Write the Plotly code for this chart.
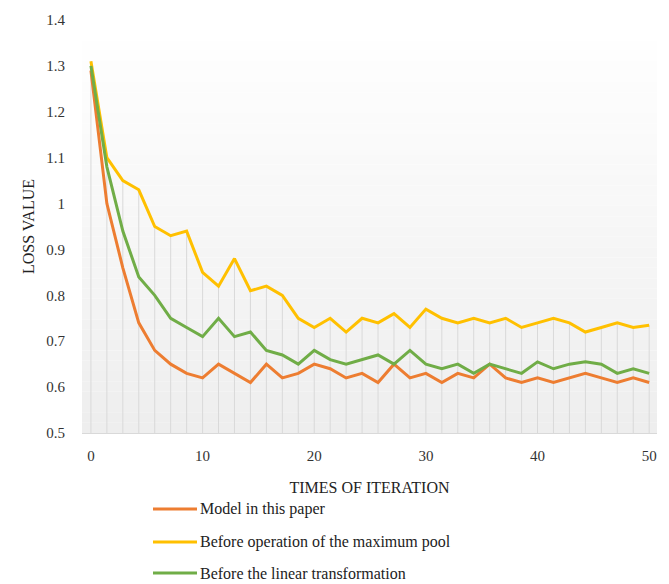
import plotly.graph_objects as go

# ---- data ----
n_points = 36
x_max = 50
iterations = [i * x_max / (n_points - 1) for i in range(n_points)]

model_this_paper = [1.29, 1.00, 0.86, 0.74, 0.68, 0.65, 0.63, 0.62, 0.65, 0.63,
                    0.61, 0.65, 0.62, 0.63, 0.65, 0.64, 0.62, 0.63, 0.61, 0.65,
                    0.62, 0.63, 0.61, 0.63, 0.62, 0.65, 0.62, 0.61, 0.62, 0.61,
                    0.62, 0.63, 0.62, 0.61, 0.62, 0.61]
before_max_pool = [1.31, 1.10, 1.05, 1.03, 0.95, 0.93, 0.94, 0.85, 0.82, 0.88,
                   0.81, 0.82, 0.80, 0.75, 0.73, 0.75, 0.72, 0.75, 0.74, 0.76,
                   0.73, 0.77, 0.75, 0.74, 0.75, 0.74, 0.75, 0.73, 0.74, 0.75,
                   0.74, 0.72, 0.73, 0.74, 0.73, 0.735]
before_linear = [1.30, 1.08, 0.94, 0.84, 0.80, 0.75, 0.73, 0.71, 0.75, 0.71,
                 0.72, 0.68, 0.67, 0.65, 0.68, 0.66, 0.65, 0.66, 0.67, 0.65,
                 0.68, 0.65, 0.64, 0.65, 0.63, 0.65, 0.64, 0.63, 0.655, 0.64,
                 0.65, 0.655, 0.65, 0.63, 0.64, 0.63]

series_names = ["Model in this paper",
                "Before operation of the maximum pool",
                "Before the linear transformation"]
series_values = [model_this_paper, before_max_pool, before_linear]
series_colors = ["#ED7D31", "#FFC000", "#70AD47"]

y_tick_vals = [0.5, 0.6, 0.7, 0.8, 0.9, 1.0, 1.1, 1.2, 1.3, 1.4]
y_tick_text = ["0.5", "0.6", "0.7", "0.8", "0.9", "1", "1.1", "1.2", "1.3", "1.4"]
x_tick_vals = [0, 10, 20, 30, 40, 50]

y_min, y_max = 0.5, 1.4
font_family = "Liberation Serif"

# ---- figure geometry (page body adds an 8px offset) ----
fig_w, fig_h = 661, 576
m_l, m_r, m_t, m_b = 74, 12, 12, 151
plot_w = fig_w - m_l - m_r
plot_h = fig_h - m_t - m_b


def px_to_paper_x(px):
    return (px - m_l) / plot_w


def px_to_paper_y(py):
    return (fig_h - m_b - py) / plot_h


fig = go.Figure()

# gradient plot background (white at top to light gray at bottom)
steps = 40
for k in range(steps):
    t = k / (steps - 1)
    g = int(round(255 - (255 - 238) * t))
    fig.add_shape(type="rect", xref="x domain", yref="y domain",
                  x0=0, x1=1, y0=1 - (k + 1) / steps, y1=1 - k / steps,
                  fillcolor=f"rgb({g},{g},{g})", line_width=0, layer="below")

# drop lines from the highest series down to the axis
drop_x, drop_y = [], []
for i, xv in enumerate(iterations):
    top = max(s[i] for s in series_values)
    drop_x += [xv, xv, None]
    drop_y += [y_min, top, None]
fig.add_trace(go.Scatter(x=drop_x, y=drop_y, mode="lines",
                         line=dict(color="#d9d9d9", width=1),
                         showlegend=False, hoverinfo="skip"))

for name, vals, col in zip(series_names, series_values, series_colors):
    fig.add_trace(go.Scatter(x=iterations, y=vals, mode="lines", name=name,
                             showlegend=False,
                             line=dict(color=col, width=3)))

# legend drawn below the chart (sample line + label)
legend_rows_px = [501, 534, 565]
for name, col, ry in zip(series_names, series_colors, legend_rows_px):
    yp = px_to_paper_y(ry)
    fig.add_shape(type="line", xref="paper", yref="paper",
                  x0=px_to_paper_x(145), x1=px_to_paper_x(189), y0=yp, y1=yp,
                  line=dict(color=col, width=3))
    fig.add_annotation(xref="paper", yref="paper", x=px_to_paper_x(190), y=yp,
                       xanchor="left", yanchor="middle", showarrow=False,
                       text=name,
                       font=dict(family=font_family, size=16, color="#222222"))

fig.update_layout(
    width=fig_w, height=fig_h,
    margin=dict(l=m_l, r=m_r, t=m_t, b=m_b, autoexpand=False),
    paper_bgcolor="white",
    plot_bgcolor="rgba(0,0,0,0)",
    showlegend=False,
    font=dict(family=font_family, size=15, color="#222222"),
    xaxis=dict(range=[-0.8, 50.7], tickvals=x_tick_vals, showgrid=False,
               zeroline=False, showline=True, linecolor="#d9d9d9", linewidth=1,
               ticks="", ticklabelstandoff=9,
               tickfont=dict(family=font_family, size=15, color="#333333"),
               title=dict(text="TIMES OF ITERATION", standoff=18,
                          font=dict(family=font_family, size=16, color="#222222"))),
    yaxis=dict(range=[y_min, y_max], tickvals=y_tick_vals, ticktext=y_tick_text,
               showgrid=False, zeroline=False, showline=False, ticks="",
               ticklabelstandoff=16,
               tickfont=dict(family=font_family, size=15, color="#333333"),
               title=dict(text="LOSS VALUE", standoff=7,
                          font=dict(family=font_family, size=16, color="#222222"))),
)

fig.write_html("out.html")
